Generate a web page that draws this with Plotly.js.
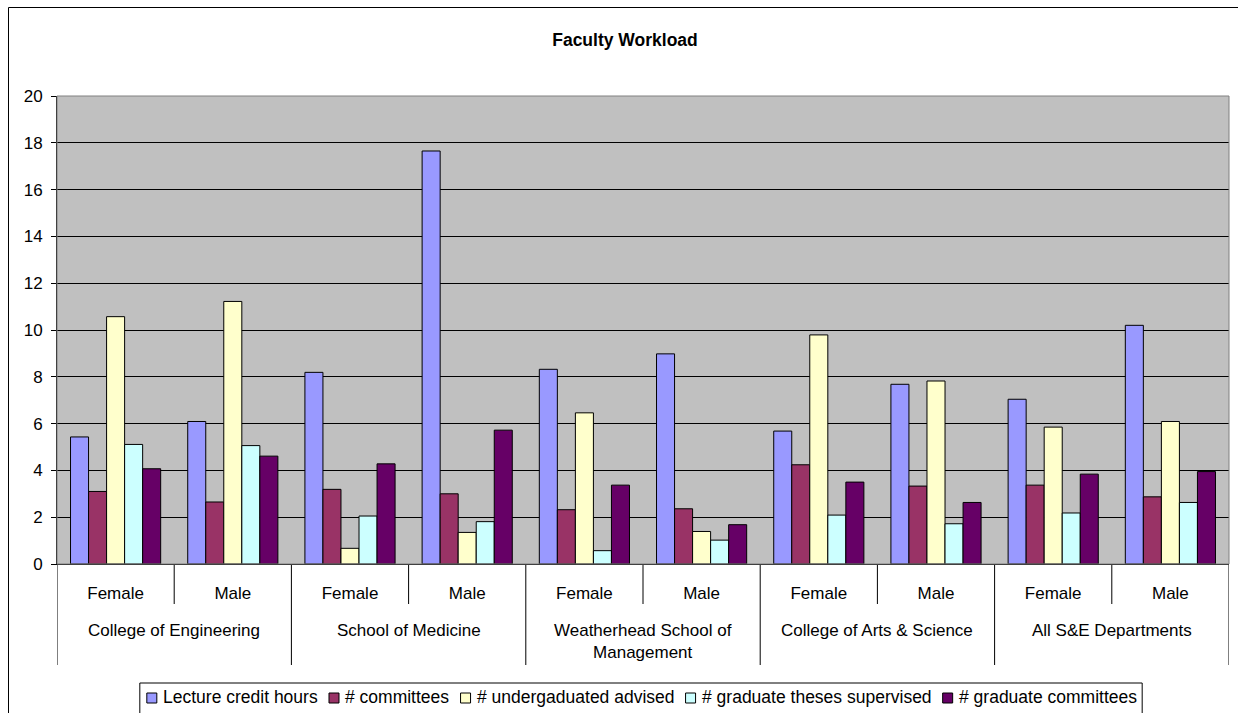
<!DOCTYPE html>
<html>
<head>
<meta charset="utf-8">
<script src="https://cdn.plot.ly/plotly-3.0.1.min.js"></script>
<style>
  html, body { margin: 0; padding: 0; background: #ffffff; overflow: hidden; }
  #chart { width: 1238px; height: 713px; }
</style>
</head>
<body>
<div id="chart"></div>
<script>
// ---- data ----
var groups = ["College of Engineering", "School of Medicine", "Weatherhead School of<br>Management", "College of Arts & Science", "All S&E Departments"];
var genders = ["Female", "Male"];
var seriesNames = ["Lecture credit hours", "# committees", "# undergaduated advised", "# graduate theses supervised", "# graduate committees"];
var seriesColors = ["#9999FF", "#993366", "#FFFFCC", "#CCFFFF", "#660066"];
var lectureHours   = [5.43, 6.09, 8.19, 17.65, 8.32, 8.98, 5.68, 7.68, 7.04, 10.20];
var committees     = [3.10, 2.65, 3.19, 3.00, 2.32, 2.36, 4.24, 3.33, 3.37, 2.87];
var undergradAdv   = [10.57, 11.22, 0.67, 1.35, 6.46, 1.39, 9.79, 7.82, 5.85, 6.09];
var gradTheses     = [5.11, 5.06, 2.05, 1.81, 0.57, 1.02, 2.09, 1.72, 2.18, 2.63];
var gradCommittees = [4.07, 4.61, 4.28, 5.72, 3.37, 1.68, 3.50, 2.63, 3.84, 3.95];
var seriesValues = [lectureHours, committees, undergradAdv, gradTheses, gradCommittees];

var FONT = "Arial, 'Liberation Sans', sans-serif";
var FS = 17;
var LEG_FS = 17.5;

// ---- build categories ----
var xPos = [], tickText = [];
groups.forEach(function (g, gi) {
  genders.forEach(function (s, si) {
    xPos.push(gi * genders.length + si);
    tickText.push(s);
  });
});

var traces = seriesValues.map(function (vals, i) {
  return {
    type: "bar",
    name: seriesNames[i],
    x: xPos,
    y: vals,
    marker: { color: seriesColors[i], line: { color: "#000000", width: 1 } },
    hoverinfo: "name+y",
    showlegend: false
  };
});

// geometry (pixels) -> paper helpers
var W = 1238, H = 713;
var L = 57, R = 9, T = 96, B = 149;
var PW = W - L - R, PH = H - T - B;
function py(pix) { return (H - B - pix) / PH; }
function px(pix) { return (pix - L) / PW; }

var shapes = [];
var annotations = [];
// short dividers between Female / Male
groups.forEach(function (g, gi) {
  var xm = gi * 2 + 0.5;
  shapes.push({ type: "line", xref: "x", yref: "paper", x0: xm, x1: xm, y0: 0, y1: py(604),
    line: { color: "#000000", width: 1 } });
});
// long dividers between groups
for (var k = 0; k <= groups.length; k++) {
  var xb = k * 2 - 0.5;
  shapes.push({ type: "line", xref: "x", yref: "paper", x0: xb, x1: xb, y0: 0, y1: py(665),
    line: { color: "#000000", width: 1 } });
}
// plot area border (gray)
shapes.push({ type: "rect", xref: "paper", yref: "paper", x0: 0, x1: 1, y0: 0, y1: 1,
  line: { color: "#808080", width: 1 }, fillcolor: "rgba(0,0,0,0)" });
// chart outer border (only left and top visible in the frame)
shapes.push({ type: "line", xref: "paper", yref: "paper", x0: px(8.5), x1: px(8.5), y0: py(7.5), y1: py(760),
  line: { color: "#000000", width: 1 } });
shapes.push({ type: "line", xref: "paper", yref: "paper", x0: px(8.5), x1: px(1300), y0: py(7.5), y1: py(7.5),
  line: { color: "#000000", width: 1 } });

// group labels (second level of the category axis)
groups.forEach(function (g, gi) {
  annotations.push({
    text: g, xref: "x", yref: "paper", x: gi * 2 + 0.5, y: py(619),
    xanchor: "center", yanchor: "top", showarrow: false,
    font: { family: FONT, size: FS, color: "#000000" }
  });
});

// legend (Excel style: small squares, tight spacing)
var ctx = document.createElement("canvas").getContext("2d");
ctx.font = LEG_FS + "px Arial, 'Liberation Sans', sans-serif";
var textW = seriesNames.map(function (n) { return ctx.measureText(n).width; });
var SYM = 10, SYM_GAP = 6.5, ITEM_GAP = 11, PAD_L = 7, PAD_R = 5;
var total = PAD_L + PAD_R + ITEM_GAP * (seriesNames.length - 1);
textW.forEach(function (w) { total += SYM + SYM_GAP + w; });
var boxLeft = 641 - total / 2;
var LEG_CY = 698;
shapes.push({ type: "rect", xref: "paper", yref: "paper",
  x0: px(boxLeft), x1: px(boxLeft + total), y0: py(730), y1: py(683),
  line: { color: "#000000", width: 1 }, fillcolor: "#ffffff" });
var cx = boxLeft + PAD_L;
seriesNames.forEach(function (n, i) {
  shapes.push({ type: "rect", xref: "paper", yref: "paper",
    x0: px(cx), x1: px(cx + SYM), y0: py(LEG_CY + SYM / 2), y1: py(LEG_CY - SYM / 2),
    line: { color: "#000000", width: 1 }, fillcolor: seriesColors[i] });
  annotations.push({
    text: n, xref: "paper", yref: "paper", x: px(cx + SYM + SYM_GAP - 2), y: py(LEG_CY - 1),
    xanchor: "left", yanchor: "middle", showarrow: false,
    font: { family: FONT, size: LEG_FS, color: "#000000" }
  });
  cx += SYM + SYM_GAP + textW[i] + ITEM_GAP;
});

var layout = {
  width: W, height: H,
  margin: { l: L, r: R, t: T, b: B, pad: 0, autoexpand: false },
  paper_bgcolor: "#ffffff",
  plot_bgcolor: "#C0C0C0",
  font: { family: FONT, size: FS, color: "#000000" },
  title: {
    text: "<b>Faculty Workload</b>",
    font: { family: FONT, size: 17.5, color: "#000000" },
    x: px(625), xref: "paper", y: 1 - 40 / H, yref: "container", yanchor: "middle", xanchor: "center"
  },
  barmode: "group",
  bargap: 1.5 / 6.5,
  bargroupgap: 0,
  showlegend: false,
  xaxis: {
    type: "linear",
    range: [-0.5, 9.5],
    tickvals: xPos,
    ticktext: tickText,
    ticks: "",
    showgrid: false,
    zeroline: false,
    showline: true, linecolor: "#000000", linewidth: 1,
    ticklabelstandoff: 14,
    tickfont: { family: FONT, size: FS, color: "#000000" },
    fixedrange: true
  },
  yaxis: {
    range: [0, 20],
    dtick: 2,
    tick0: 0,
    showgrid: true, gridcolor: "#000000", gridwidth: 1,
    zeroline: false,
    showline: true, linecolor: "#000000", linewidth: 1,
    ticks: "outside", ticklen: 5, tickcolor: "#000000", tickwidth: 1,
    ticklabelstandoff: 5,
    tickfont: { family: FONT, size: FS, color: "#000000" },
    fixedrange: true
  },
  shapes: shapes,
  annotations: annotations
};

Plotly.newPlot("chart", traces, layout, { displayModeBar: false, staticPlot: true });
</script>
</body>
</html>
